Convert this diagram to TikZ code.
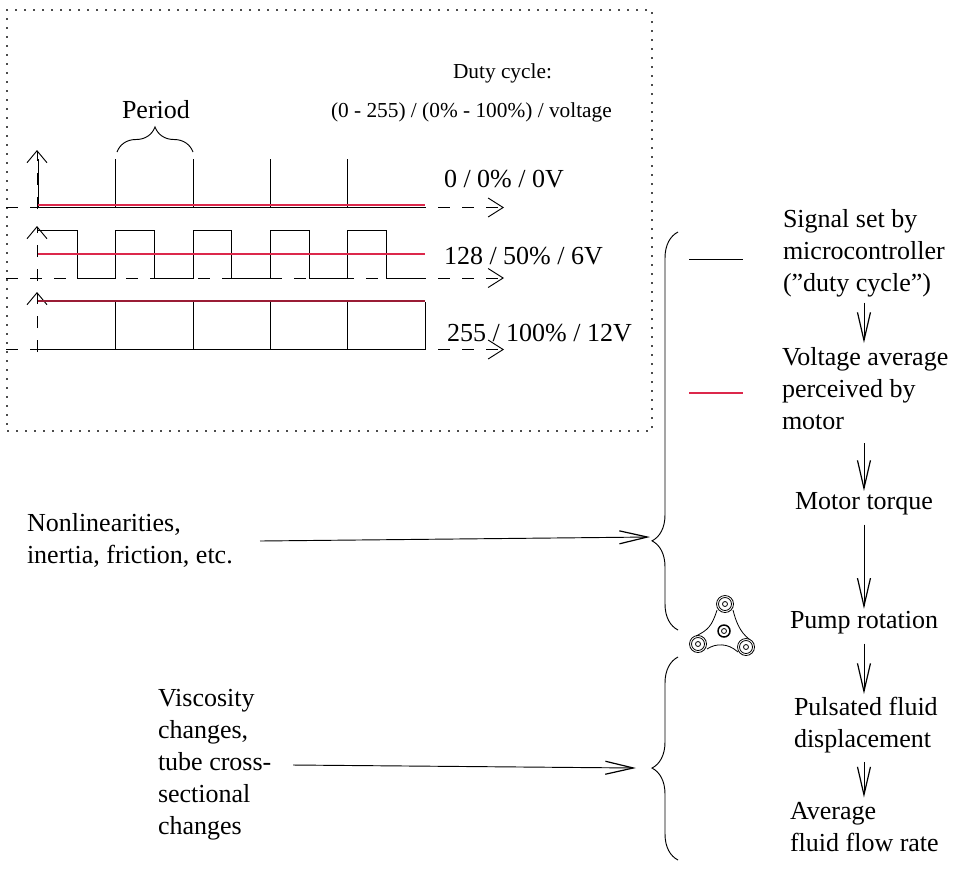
\documentclass[tikz,border=0pt]{standalone}
\usepackage{fontspec}
\setmainfont{Liberation Serif}
\usetikzlibrary{arrows.meta,decorations.pathreplacing}
\definecolor{avgred}{RGB}{220,40,75}
\tikzset{
  textlabel/.style={inner sep=0pt, outer sep=0pt, align=left, font=\fontsize{19.5}{24}\selectfont},
  smalllabel/.style={inner sep=0pt, outer sep=0pt, font=\fontsize{16}{20}\selectfont},
  barb/.style={-{Straight Barb[length=28*0.75pt, width=13*0.75pt, line width=0.9pt]}, line width=0.7pt},
  xaxis/.style={line width=0.7pt, dash pattern=on 9pt off 9pt, -{Straight Barb[length=15*0.75pt, width=19*0.75pt]}},
  yaxis/.style={line width=0.7pt, dash pattern=on 9pt off 9pt, -{Straight Barb[length=12*0.75pt, width=20*0.75pt]}},
  signal/.style={line width=0.7pt},
  average/.style={line width=0.9pt, avgred},
  brace/.style={decorate, line width=0.7pt, decoration={brace, amplitude=#1}},
  rollring/.style={circle, draw, line width=0.6pt, inner sep=0pt},
}
\begin{document}
\begin{tikzpicture}[x=0.75pt, y=-0.75pt]
\useasboundingbox (0,0) rectangle (956,890);
% box round the signals
\node[draw=black!70, line width=0.8pt, dash pattern=on 1.2pt off 5.55pt, minimum width=645*0.75pt, minimum height=421*0.75pt, inner sep=0pt] (frame) at (329.5,220.5) {};
\node[smalllabel, anchor=base west] (duty) at (453,78) {Duty cycle:};
\node[smalllabel, anchor=base west] (scale) at (331,117) {(0 - 255) / (0\% - 100\%) / voltage};
\node[textlabel, anchor=base west] (period) at (122,118) {Period};
\node[textlabel, anchor=base west] (zero) at (444,187) {0 / 0\% / 0V};
\node[textlabel, anchor=base west] (half) at (444,264) {128 / 50\% / 6V};
\node[textlabel, anchor=base west] (full) at (447,341) {255 / 100\% / 12V};
% axes
\coordinate (xa1) at (6,207.5); \coordinate (xb1) at (504,207.5);
\coordinate (xa2) at (6,278); \coordinate (xb2) at (504,278);
\coordinate (xa3) at (6,349.5); \coordinate (xb3) at (504,349.5);
\coordinate (ya1) at (37,209); \coordinate (yb1) at (37,150);
\coordinate (ya2) at (37,281); \coordinate (yb2) at (37,226);
\coordinate (ya3) at (37,352); \coordinate (yb3) at (37,292);
\foreach \n in {1,2,3} {
  \draw[xaxis] (xa\n) -- (xb\n);
  \draw[yaxis] (ya\n) -- (yb\n);
}
% row 1
\draw[signal] (38,207.5) -- (425,207.5);
\foreach \x in {38,115,193,270,347}
  \draw[signal] (\x,207.5) -- (\x,159);
\draw[average] (38,205) -- (425,205);
% row 2
\draw[signal] (38,230.5) -- (77,230.5) -- (77,278) -- (115,278) -- (115,230.5) -- (154,230.5) -- (154,278) -- (193,278) -- (193,230.5) -- (231,230.5) -- (231,278) -- (270,278) -- (270,230.5) -- (309,230.5) -- (309,278) -- (347,278) -- (347,230.5) -- (386,230.5) -- (386,278) -- (425,278);
\draw[average] (38,254) -- (425,254);
% row 3
\draw[signal] (38,349.5) -- (425,349.5) -- (425,301.5);
\foreach \x in {115,193,270,347}
  \draw[signal] (\x,349.5) -- (\x,301.5);
\draw[average, avgred!70!black] (38,301) -- (425,301);
% braces
\coordinate (pa) at (117,152); \coordinate (pb) at (193,152);
\draw[brace=25*0.75pt] (pa) -- (pb);
\coordinate (ba) at (678,232); \coordinate (bb) at (678,630);
\draw[brace=26*0.75pt, decoration={aspect=0.224}] (bb) -- (ba);
\coordinate (ca) at (678,657); \coordinate (cb) at (678,860);
\draw[brace=26*0.75pt, decoration={aspect=0.453}] (cb) -- (ca);
% legend lines
\coordinate (la) at (689,259.5); \coordinate (lb) at (743,259.5);
\coordinate (ra) at (689,393); \coordinate (rb) at (743,393);
\draw[signal] (la) -- (lb);
\draw[average] (ra) -- (rb);
% right column
\node[textlabel, anchor=north west] (sig) at (783,209) {Signal set by\\microcontroller\\(''duty cycle'')};
\node[textlabel, anchor=north west] (volt) at (782,347) {Voltage average\\perceived by\\motor};
\node[textlabel, anchor=base west] (torque) at (795,509) {Motor torque};
\node[textlabel, anchor=base west] (pump) at (790,628) {Pump rotation};
\node[textlabel, anchor=north west] (fluid) at (794,697) {Pulsated fluid\\displacement};
\node[textlabel, anchor=north west] (rate) at (790,802.5) {Average\\fluid flow rate};
\draw[barb, shorten <=6*0.75pt, shorten >=4*0.75pt] (sig.south -| torque) -- (volt.north -| torque);
\draw[barb, shorten <=14*0.75pt, shorten >=1*0.75pt] (volt.south -| torque) -- (torque);
\draw[barb, shorten <=10*0.75pt, shorten >=2*0.75pt] (torque) -- (pump.north -| torque);
\draw[barb, shorten <=10*0.75pt, shorten >=3*0.75pt] (pump.south -| torque) -- (fluid.north -| torque);
\draw[barb, shorten <=9*0.75pt, shorten >=5*0.75pt] (fluid.south -| torque) -- (rate.north -| torque);
% left labels
\node[textlabel, anchor=north west] (nonlin) at (27,513) {Nonlinearities,\\inertia, friction, etc.};
\node[textlabel, anchor=north west] (visc) at (158,689) {Viscosity\\changes,\\tube cross-\\sectional\\changes};
\coordinate (na) at (260,541); \coordinate (nt) at (650,537);
\coordinate (va) at (293,765); \coordinate (vt) at (636,768);
\draw[barb] (na) -- (nt);
\draw[barb] (va) -- (vt);
% pump
\foreach \n/\p in {a/{725,604}, b/{698,644}, c/{746,647}} {
  \node[rollring, minimum size=17*0.75pt] (roll\n) at (\p) {};
  \node[rollring, minimum size=13*0.75pt] at (\p) {};
  \node[rollring, minimum size=5*0.75pt] at (\p) {};
}
\node[rollring, line width=1.1pt, minimum size=12*0.75pt] (hub) at (724,631) {};
\node[rollring, minimum size=5*0.75pt] at (724,631) {};
\draw[line width=0.6pt] (717,610) .. controls (712,626) and (708,630) .. (696,636);
\draw[line width=0.6pt] (733,610) .. controls (736,622) and (740,632) .. (749,639);
\draw[line width=0.6pt] (707,649) .. controls (716,643) and (728,643) .. (738,652);
\end{tikzpicture}
\end{document}
